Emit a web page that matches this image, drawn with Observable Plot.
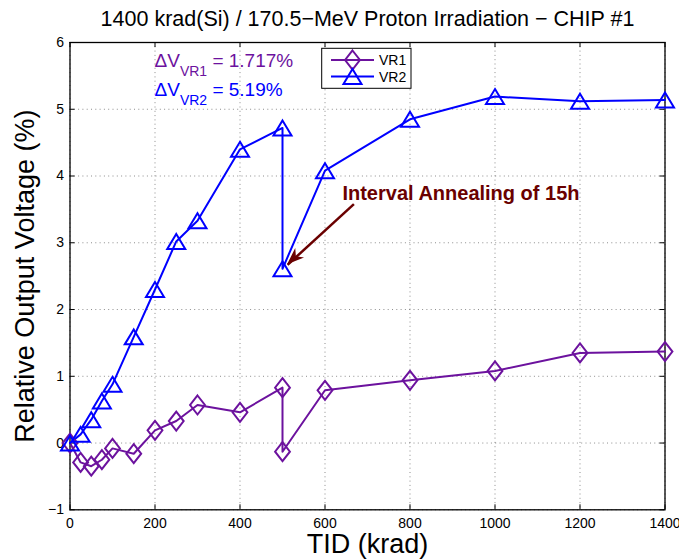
<!DOCTYPE html>
<html><head><meta charset="utf-8">
<script src="https://cdn.jsdelivr.net/npm/d3@7"></script>
<script src="https://cdn.jsdelivr.net/npm/@observablehq/plot@0.6"></script>
<style>body{margin:0;background:#fff;}</style>
</head><body><div id="chart"></div>
<script>
// ---- data ----
const tid = [0, 25, 50, 75, 100, 150, 200, 250, 300, 400, 500, 500, 600, 800, 1000, 1200, 1400];
const vr1 = [0, -0.29, -0.347, -0.25, -0.08, -0.16, 0.19, 0.33, 0.57, 0.46, 0.83, -0.13, 0.79, 0.94, 1.08, 1.35, 1.37];
const vr2 = [0, 0.13, 0.35, 0.63, 0.88, 1.59, 2.30, 3.02, 3.33, 4.40, 4.72, 2.61, 4.08, 4.85, 5.19, 5.12, 5.14];
const xTicks = [0, 200, 400, 600, 800, 1000, 1200, 1400];
const yTicks = [-1, 0, 1, 2, 3, 4, 5, 6];
const seriesNames = ["VR1", "VR2"];
const deltaValues = ["1.717%", "5.19%"];
const titleText = "1400 krad(Si) / 170.5\u2212MeV Proton Irradiation \u2212 CHIP #1";
const xLabel = "TID (krad)";
const yLabel = "Relative Output Voltage (%)";
const annotationText = "Interval Annealing of 15h";
const annotationAt = [641, 3.74];
const arrowFrom = [668, 3.58];
const arrowTo = [512, 2.67];
const deltaAt = [200, 5.63];

// ---- style ----
const W = 679, H = 560, mL = 69.5, mR = 14.5, mT = 42, mB = 50.7;
const frameH = H - mT - mB, frameW = W - mL - mR;
const c1 = "#6c129e", c2 = "#0000ff", cRed = "#6a0000";
const font = "'Liberation Sans', Arial, Helvetica, sans-serif";
const fmt = d => d < 0 ? "\u2212" + (-d) : String(d);

const d1 = tid.map((x, i) => ({x, y: vr1[i]}));
const d2 = tid.map((x, i) => ({x, y: vr2[i]}));

const diamond = {draw(ctx, size) { const r = Math.sqrt(size / Math.PI), w = r * 0.78;
  ctx.moveTo(0, -r); ctx.lineTo(w, 0); ctx.lineTo(0, r); ctx.lineTo(-w, 0); ctx.closePath(); }};
const triangle = {draw(ctx, size) { const r = Math.sqrt(size / Math.PI), h = r * 0.83;
  ctx.moveTo(0, -h); ctx.lineTo(r, h); ctx.lineTo(-r, h); ctx.closePath(); }};

const gridStyle = {stroke: "#000", strokeOpacity: 0.45, strokeDasharray: "1,3.3", strokeWidth: 1};

const plot = Plot.plot({
  width: W, height: H, marginLeft: mL, marginRight: mR, marginTop: mT, marginBottom: mB,
  x: {domain: [0, 1400]},
  y: {domain: [-1, 6]},
  style: {fontFamily: font, fontSize: "14px", color: "#000", background: "#fff"},
  marks: [
    Plot.gridX(xTicks, gridStyle),
    Plot.gridY(yTicks, gridStyle),
    Plot.axisX(xTicks, {tickSize: 0, tickPadding: 8, label: null, fontSize: 14, tickFormat: fmt}),
    Plot.axisY(yTicks, {tickSize: 0, tickPadding: 6, label: null, fontSize: 14, tickFormat: fmt}),
    Plot.tickX(xTicks, {x: d => d, insetTop: frameH - 5, stroke: "#000"}),
    Plot.tickX(xTicks, {x: d => d, insetBottom: frameH - 5, stroke: "#000"}),
    Plot.tickY(yTicks, {y: d => d, insetRight: frameW - 5, stroke: "#000"}),
    Plot.tickY(yTicks, {y: d => d, insetLeft: frameW - 5, stroke: "#000"}),
    Plot.frame({stroke: "#000", strokeWidth: 1.3}),
    Plot.line(d1, {x: "x", y: "y", stroke: c1, strokeWidth: 2}),
    Plot.line(d2, {x: "x", y: "y", stroke: c2, strokeWidth: 2}),
    Plot.dot(d1, {x: "x", y: "y", symbol: diamond, r: 9.5, stroke: c1, strokeWidth: 2, fill: "none"}),
    Plot.dot(d2, {x: "x", y: "y", symbol: triangle, r: 9, stroke: c2, strokeWidth: 2, fill: "none"}),
    Plot.link([0], {x1: () => arrowFrom[0], y1: () => arrowFrom[1], x2: () => arrowTo[0], y2: () => arrowTo[1], stroke: cRed, strokeWidth: 2.5}),
    Plot.text([annotationText], {x: () => annotationAt[0], y: () => annotationAt[1], text: d => d, textAnchor: "start", lineAnchor: "middle", fontWeight: "bold", fontSize: 20, fill: cRed}),
    Plot.text([titleText], {frameAnchor: "top", text: d => d, dy: -23, fontSize: 21.5, textAnchor: "middle", lineAnchor: "middle"}),
    Plot.text([xLabel], {frameAnchor: "bottom", text: d => d, dy: 35, fontSize: 27, textAnchor: "middle", lineAnchor: "middle"}),
    Plot.text([yLabel], {frameAnchor: "left", text: d => d, rotate: -90, dx: -44.5, fontSize: 27, textAnchor: "middle", lineAnchor: "middle"})
  ]
});

const sx = plot.scale("x"), sy = plot.scale("y");
const svg = d3.select(plot);

// arrow head (filled)
{
  const tx = sx.apply(arrowTo[0]), ty = sy.apply(arrowTo[1]);
  const fx = sx.apply(arrowFrom[0]), fy = sy.apply(arrowFrom[1]);
  const len = Math.hypot(tx - fx, ty - fy), ux = (tx - fx) / len, uy = (ty - fy) / len;
  const nx = -uy, ny = ux, L = 17, Wd = 6.5;
  const pts = [[tx, ty], [tx - L * ux + Wd * nx, ty - L * uy + Wd * ny], [tx - 0.7 * L * ux, ty - 0.7 * L * uy], [tx - L * ux - Wd * nx, ty - L * uy - Wd * ny]];
  svg.append("path").attr("d", "M" + pts.map(p => p.join(",")).join("L") + "Z").attr("fill", cRed);
}

// delta annotations with subscripts
[c1, c2].forEach((c, i) => {
  const x = sx.apply(deltaAt[0]), y = sy.apply(deltaAt[1]) + i * 29;
  const t = svg.append("text").attr("x", x).attr("y", y).attr("fill", c)
    .attr("text-anchor", "start").attr("font-family", font).attr("font-size", 19);
  t.append("tspan").text("\u0394V");
  t.append("tspan").attr("font-size", 14).attr("dy", 9).text(seriesNames[i]);
  t.append("tspan").attr("dy", -9).text(" = " + deltaValues[i]);
});

// legend
{
  const g = svg.append("g").attr("font-family", font).attr("font-size", 14).attr("text-anchor", "start");
  g.append("rect").attr("x", 321.7).attr("y", 48.3).attr("width", 89.3).attr("height", 40)
    .attr("fill", "#fff").attr("stroke", "#000").attr("stroke-width", 1);
  const syms = [diamond, triangle], rs = [9.5, 9], cols = [c1, c2], ys = [60, 76.5];
  ys.forEach((yy, i) => {
    g.append("line").attr("x1", 331).attr("x2", 374).attr("y1", yy).attr("y2", yy)
      .attr("stroke", cols[i]).attr("stroke-width", 2);
    g.append("path").attr("transform", `translate(352.5,${yy})`)
      .attr("d", d3.symbol(syms[i], Math.PI * rs[i] * rs[i])())
      .attr("fill", "none").attr("stroke", cols[i]).attr("stroke-width", 2);
    g.append("text").attr("x", 379).attr("y", yy + 5).text(seriesNames[i]);
  });
}

document.getElementById("chart").appendChild(plot);
</script>
</body></html>
